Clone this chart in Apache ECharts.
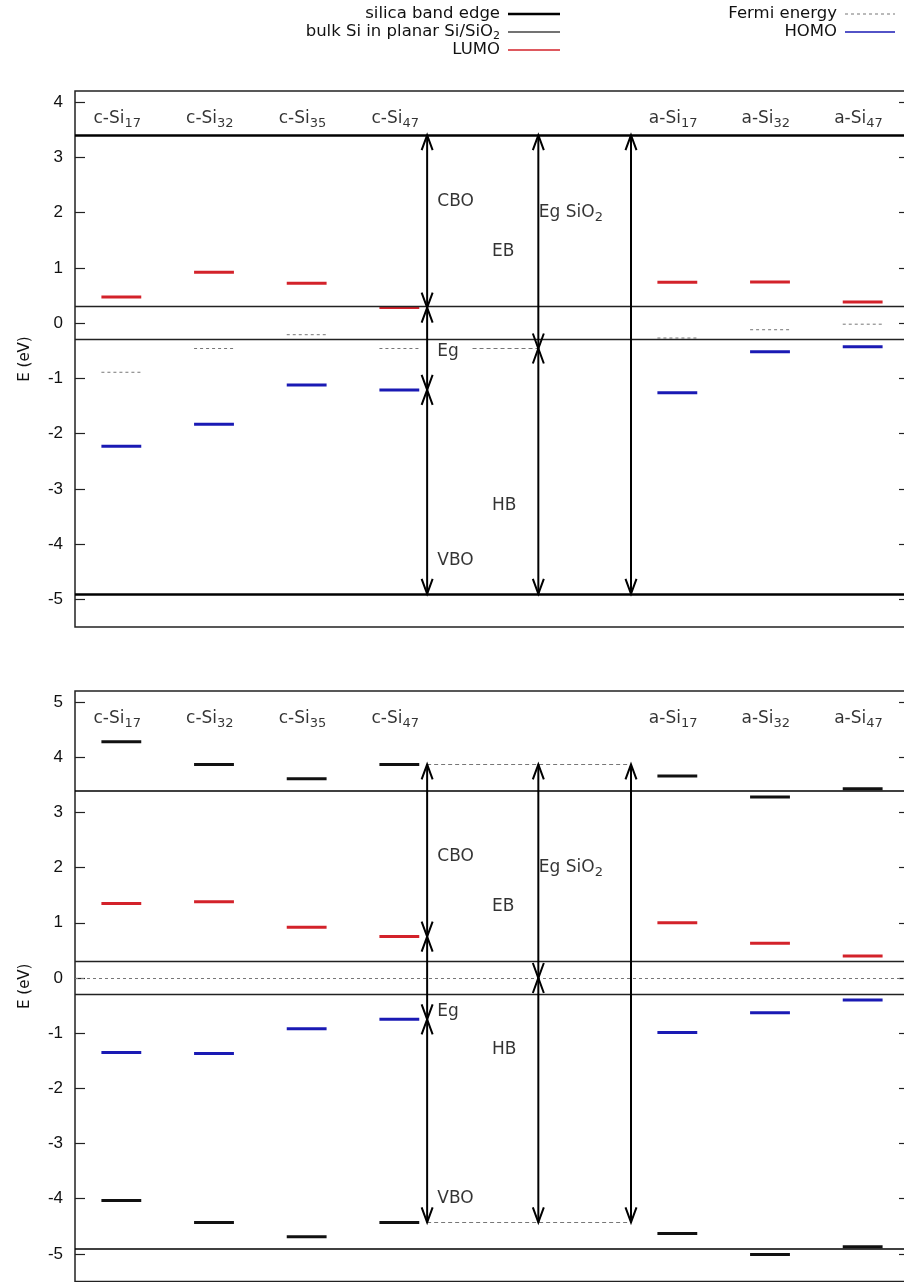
<!DOCTYPE html>
<html>
<head>
<meta charset="utf-8">
<script src="https://cdn.jsdelivr.net/npm/echarts@6/dist/echarts.min.js"></script>
<style>
html,body{margin:0;padding:0;background:#fff;}
#chart{width:904px;height:1282px;}
</style>
</head>
<body>
<div id="chart"></div>
<script>
// ---------- DATA ----------
// 9 category slots (two empty slots hold the band-offset arrows)
const catPrefix = ['c-Si', 'c-Si', 'c-Si', 'c-Si', '', '', 'a-Si', 'a-Si', 'a-Si'];
const catSub    = ['17', '32', '35', '47', '', '', '17', '32', '47'];

// top panel (eV)
const topLUMO  = [0.47, 0.92, 0.72, 0.28, null, null, 0.74, 0.745, 0.38];
const topFermi = [-0.89, -0.46, -0.21, -0.46, null, null, -0.27, -0.12, -0.02];
const topHOMO  = [-2.23, -1.83, -1.12, -1.21, null, null, -1.26, -0.52, -0.43];
const topSilicaEdges = [3.4, -4.9];
const topBulkSi = [0.3, -0.3];
const topTicks = [-5, -4, -3, -2, -1, 0, 1, 2, 3, 4];

// bottom panel (eV)
const botCBedge = [4.28, 3.87, 3.61, 3.87, null, null, 3.66, 3.28, 3.43];
const botLUMO   = [1.35, 1.38, 0.92, 0.75, null, null, 1.00, 0.63, 0.40];
const botHOMO   = [-1.35, -1.37, -0.92, -0.75, null, null, -0.99, -0.63, -0.40];
const botVBedge = [-4.03, -4.43, -4.69, -4.43, null, null, -4.63, -5.01, -4.87];
const botFermi = 0;
const botSilicaEdges = [3.4, -4.9];
const botBulkSi = [0.3, -0.3];
const botTicks = [-5, -4, -3, -2, -1, 0, 1, 2, 3, 4, 5];

// arrows: [x, yFrom, yTo]
const topArrows = [
  [3.8, 3.4, 0.28], [3.8, 0.28, -1.21], [3.8, -1.21, -4.9],
  [5.0, 3.4, -0.46], [5.0, -0.46, -4.9],
  [6.0, 3.4, -4.9]
];
const botArrows = [
  [3.8, 3.87, 0.75], [3.8, 0.75, -0.75], [3.8, -0.75, -4.43],
  [5.0, 3.87, 0], [5.0, 0, -4.43],
  [6.0, 3.87, -4.43]
];
// dashed helper segments: [x1, x2, y]
const topDashSeg = [[4.29, 5.0, -0.46]];
const botDashSeg = [[3.8, 6.0, 3.87], [3.8, 6.0, -4.43]];

// annotation labels: [x, y, text]
const topNotes = [[3.91, 2.2, 'CBO'], [5.005, 2.0, 'EgSiO2'], [4.5, 1.3, 'EB'], [3.91, -0.52, 'Eg'], [4.5, -3.3, 'HB'], [3.91, -4.3, 'VBO']];
const botNotes = [[3.91, 2.2, 'CBO'], [5.005, 2.0, 'EgSiO2'], [4.5, 1.3, 'EB'], [3.91, -0.6, 'Eg'], [4.5, -1.3, 'HB'], [3.91, -4.0, 'VBO']];

// ---------- HELPERS ----------
const RED = '#d3222a', BLUE = '#1a1ab4', BLACK = '#111', GRAY = '#777';
const HALF = 0.215;
const FONT = '"DejaVu Sans", Verdana, sans-serif';
const TFONT = '"Liberation Sans", Arial, sans-serif';

function pts(arr) {
  return arr.map((v, i) => v == null ? null : [i + 0.5, v]).filter(Boolean);
}
function levelSeries(name, data, color, width, dashed, gi) {
  return {
    name: name, type: 'custom', xAxisIndex: gi, yAxisIndex: gi * 2, silent: true,
    data: data,
    renderItem: function (params, api) {
      const x = api.value(0), y = api.value(1);
      const p1 = api.coord([x - HALF, y]);
      const p2 = api.coord([x + HALF, y]);
      return {
        type: 'line',
        shape: { x1: p1[0], y1: p1[1], x2: p2[0], y2: p2[1] },
        style: { stroke: color, lineWidth: width, lineDash: dashed ? [3, 3] : null }
      };
    }
  };
}
function arrowSeries(data, gi) {
  return {
    type: 'custom', xAxisIndex: gi, yAxisIndex: gi * 2, silent: true, z: 5,
    data: data,
    renderItem: function (params, api) {
      const x = api.value(0);
      const p1 = api.coord([x, api.value(1)]);
      const p2 = api.coord([x, api.value(2)]);
      const d = p2[1] > p1[1] ? 1 : -1;
      const L = 15, W = 5.5;
      const st = { stroke: '#000', lineWidth: 2, fill: null };
      return {
        type: 'group',
        children: [
          { type: 'line', shape: { x1: p1[0], y1: p1[1], x2: p2[0], y2: p2[1] }, style: st },
          { type: 'polyline', shape: { points: [[p1[0] - W, p1[1] + d * L], [p1[0], p1[1]], [p1[0] + W, p1[1] + d * L]] }, style: st },
          { type: 'polyline', shape: { points: [[p2[0] - W, p2[1] - d * L], [p2[0], p2[1]], [p2[0] + W, p2[1] - d * L]] }, style: st }
        ]
      };
    }
  };
}
function hLineSeries(edges, bulk, dashSegs, fermi, gi, edgeWidth) {
  const md = [];
  edges.forEach(v => md.push({ yAxis: v, lineStyle: { color: '#000', width: edgeWidth, type: 'solid' } }));
  bulk.forEach(v => md.push({ yAxis: v, lineStyle: { color: '#222', width: 1.3, type: 'solid' } }));
  if (fermi != null) md.push({ yAxis: fermi, lineStyle: { color: GRAY, width: 1, type: [3, 3] } });
  dashSegs.forEach(s => md.push([{ coord: [s[0], s[2]], lineStyle: { color: GRAY, width: 1, type: [4, 3] } }, { coord: [s[1], s[2]] }]));
  return {
    type: 'line', xAxisIndex: gi, yAxisIndex: gi * 2, data: [], silent: true,
    markLine: { silent: true, symbol: ['none', 'none'], label: { show: false }, animation: false, data: md }
  };
}
const richDef = {
  a: { fontSize: 17, fontFamily: FONT, color: '#000', lineHeight: 22 },
  s: { fontSize: 13, fontFamily: FONT, color: '#000', lineHeight: 22, padding: [10, 0, 0, 0] }
};
function catLabelSeries(yVal, gi) {
  const data = [];
  catPrefix.forEach((p, i) => { if (p) data.push({ value: [i + 0.455, yVal], pre: p, sub: catSub[i] }); });
  return {
    type: 'scatter', xAxisIndex: gi, yAxisIndex: gi * 2, symbolSize: 0, silent: true, data: data,
    label: {
      show: true, position: 'inside',
      formatter: p => '{a|' + p.data.pre + '}{s|' + p.data.sub + '}',
      rich: richDef
    }
  };
}
function noteSeries(notes, gi) {
  return {
    type: 'scatter', xAxisIndex: gi, yAxisIndex: gi * 2, symbolSize: 0, silent: true,
    data: notes.map(n => ({ value: [n[0], n[1]], txt: n[2] })),
    label: {
      show: true, position: 'right', distance: 0,
      formatter: p => p.data.txt === 'EgSiO2' ? '{a|Eg SiO}{s|2}' : '{a|' + p.data.txt + '}',
      rich: richDef
    }
  };
}
function yAxes(gi, min, max, ticks) {
  const common = {
    type: 'value', gridIndex: gi, min: min, max: max,
    axisLine: { show: false }, splitLine: { show: false },
    axisTick: { show: true, inside: true, length: 10, customValues: ticks, lineStyle: { color: '#222', width: 1.2 } }
  };
  return [
    Object.assign({}, common, {
      position: 'left',
      name: 'E (eV)', nameLocation: 'middle', nameGap: 42,
      nameTextStyle: { fontSize: 15, fontFamily: FONT, color: '#111' },
      axisLabel: { show: true, customValues: ticks, margin: 12, fontSize: 17, fontFamily: TFONT, color: '#111' }
    }),
    Object.assign({}, common, { position: 'right', axisLabel: { show: false } })
  ];
}

const LF = '16.5px ' + FONT;
const option = {
  backgroundColor: '#fff',
  animation: false,
  grid: [
    { left: 75, top: 91, width: 834, height: 536, outerBoundsMode: 'none', containLabel: false, show: true, borderColor: '#222', borderWidth: 1.5, backgroundColor: 'transparent' },
    { left: 75, top: 691, width: 834, height: 590.5, outerBoundsMode: 'none', containLabel: false, show: true, borderColor: '#222', borderWidth: 1.5, backgroundColor: 'transparent' }
  ],
  xAxis: [
    { type: 'value', gridIndex: 0, min: 0, max: 9, show: false },
    { type: 'value', gridIndex: 1, min: 0, max: 9, show: false }
  ],
  yAxis: [].concat(yAxes(0, -5.5, 4.2, topTicks), yAxes(1, -5.5, 5.2, botTicks)),
  graphic: [
    // legend, left column
    { type: 'text', x: 500, y: 14, style: { text: 'silica band edge', font: LF, fill: '#111', align: 'right', verticalAlign: 'middle' } },
    { type: 'line', shape: { x1: 508, y1: 14, x2: 560, y2: 14 }, style: { stroke: '#000', lineWidth: 2.5 } },
    { type: 'text', x: 500, y: 32, style: { text: '{a|bulk Si in planar Si/SiO}{s|2}', rich: { a: { font: LF, fill: '#111' }, s: { font: '11px ' + FONT, fill: '#111', padding: [8, 0, 0, 0] } }, align: 'right', verticalAlign: 'middle' } },
    { type: 'line', shape: { x1: 508, y1: 32, x2: 560, y2: 32 }, style: { stroke: '#444', lineWidth: 1.5 } },
    { type: 'text', x: 500, y: 50, style: { text: 'LUMO', font: LF, fill: '#111', align: 'right', verticalAlign: 'middle' } },
    { type: 'line', shape: { x1: 508, y1: 50, x2: 560, y2: 50 }, style: { stroke: RED, lineWidth: 1.5 } },
    // legend, right column
    { type: 'text', x: 837, y: 14, style: { text: 'Fermi energy', font: LF, fill: '#111', align: 'right', verticalAlign: 'middle' } },
    { type: 'line', shape: { x1: 845, y1: 14, x2: 895, y2: 14 }, style: { stroke: GRAY, lineWidth: 1, lineDash: [3, 3] } },
    { type: 'text', x: 837, y: 32, style: { text: 'HOMO', font: LF, fill: '#111', align: 'right', verticalAlign: 'middle' } },
    { type: 'line', shape: { x1: 845, y1: 32, x2: 895, y2: 32 }, style: { stroke: BLUE, lineWidth: 1.5 } }
  ],
  series: [
    // top panel
    hLineSeries(topSilicaEdges, topBulkSi, topDashSeg, null, 0, 2.6),
    levelSeries('LUMO', pts(topLUMO), RED, 3, false, 0),
    levelSeries('Fermi energy', pts(topFermi), GRAY, 1, true, 0),
    levelSeries('HOMO', pts(topHOMO), BLUE, 3, false, 0),
    arrowSeries(topArrows, 0),
    catLabelSeries(3.7, 0),
    noteSeries(topNotes, 0),
    // bottom panel
    hLineSeries(botSilicaEdges, botBulkSi, botDashSeg, botFermi, 1, 1.5),
    levelSeries('silica band edge', pts(botCBedge), BLACK, 3, false, 1),
    levelSeries('silica band edge ', pts(botVBedge), BLACK, 3, false, 1),
    levelSeries('LUMO ', pts(botLUMO), RED, 3, false, 1),
    levelSeries('HOMO ', pts(botHOMO), BLUE, 3, false, 1),
    arrowSeries(botArrows, 1),
    catLabelSeries(4.7, 1),
    noteSeries(botNotes, 1)
  ]
};

const chart = echarts.init(document.getElementById('chart'), null, { renderer: 'canvas' });
chart.setOption(option);
</script>
</body>
</html>
